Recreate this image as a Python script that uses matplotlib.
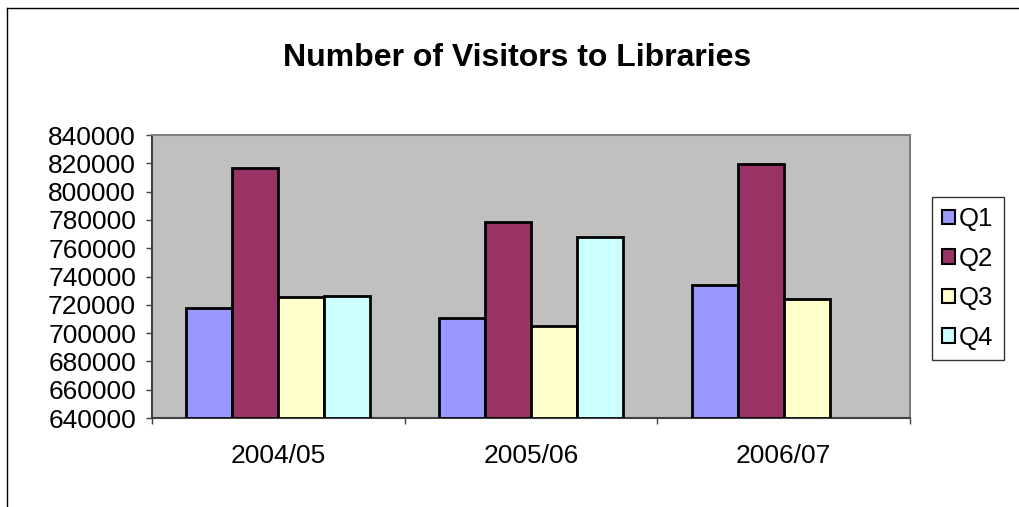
import matplotlib
matplotlib.use("Agg")
import numpy as np
import matplotlib.pyplot as plt
from matplotlib.lines import Line2D

plt.rcParams['font.family'] = ['Liberation Sans', 'DejaVu Sans']

years = ['2004/05', '2005/06', '2006/07']
quarters = ['Q1', 'Q2', 'Q3', 'Q4']
q1 = [718000, 710500, 734000]
q2 = [816500, 778500, 819500]
q3 = [725300, 705200, 724300]
q4 = [726200, 767700, None]
colors = ['#9999FF', '#993366', '#FFFFCC', '#CCFFFF']

W, H = 1020, 507
fig = plt.figure(figsize=(W / 100.0, H / 100.0), dpi=100)
ax = fig.add_axes([152.0 / W, 1 - 418.0 / H, (910.0 - 152) / W, (418.0 - 135) / H])
ax.set_facecolor('#C0C0C0')

base = 640000
width = 1 / 5.5
x = np.arange(len(years))
for i, (vals, c, lab) in enumerate(zip([q1, q2, q3, q4], colors, quarters)):
    xs = [xx + (i - 1.5) * width for xx, v in zip(x, vals) if v is not None]
    hs = [v - base for v in vals if v is not None]
    ax.bar(xs, hs, width, bottom=base, color=c, edgecolor='black',
           linewidth=2, label=lab, zorder=3)

ax.set_xlim(-0.5, 2.5)
ax.set_ylim(640000, 840000)
ax.set_yticks(np.arange(640000, 840001, 20000))
ax.set_yticklabels(['%d' % v for v in np.arange(640000, 840001, 20000)])
ax.tick_params(axis='y', direction='out', length=4.5, width=1, color='#404040',
               labelsize=19, pad=7)

ax.set_xticks([-0.5, 0.5, 1.5, 2.5])
ax.set_xticklabels([])
ax.set_xticks(x, minor=True)
ax.set_xticklabels(years, minor=True)
ax.tick_params(axis='x', which='major', direction='out', length=4.5, width=1,
               color='#404040')
ax.tick_params(axis='x', which='minor', length=0, labelsize=19, pad=19)

for s in ['top', 'right']:
    ax.spines[s].set_color('#808080')
    ax.spines[s].set_linewidth(1.5)
for s in ['left', 'bottom']:
    ax.spines[s].set_color('#404040')
    ax.spines[s].set_linewidth(1.5)

fig.text(517.0 / W, 1 - 58.0 / H, 'Number of Visitors to Libraries',
         ha='center', va='center', fontsize=23, fontweight='bold')

leg = fig.legend(loc='upper left', bbox_to_anchor=(932.0 / W, 1 - 197.0 / H),
                 borderaxespad=0, fontsize=18.5, frameon=True, fancybox=False,
                 handlelength=0.5, handleheight=0.5, handletextpad=0.15,
                 borderpad=0.4, labelspacing=0.6)
leg.get_frame().set_edgecolor('black')
leg.get_frame().set_linewidth(1)
for p in leg.get_patches():
    p.set_linewidth(1.5)

# outer chart frame (only left and top edges are visible)
fig.add_artist(Line2D([7.5 / W, 7.5 / W], [0, 1 - 8.0 / H], color='black',
                      linewidth=1, transform=fig.transFigure))
fig.add_artist(Line2D([7.5 / W, 1], [1 - 8.0 / H, 1 - 8.0 / H], color='black',
                      linewidth=1, transform=fig.transFigure))

fig.savefig('out.png', dpi=100)
